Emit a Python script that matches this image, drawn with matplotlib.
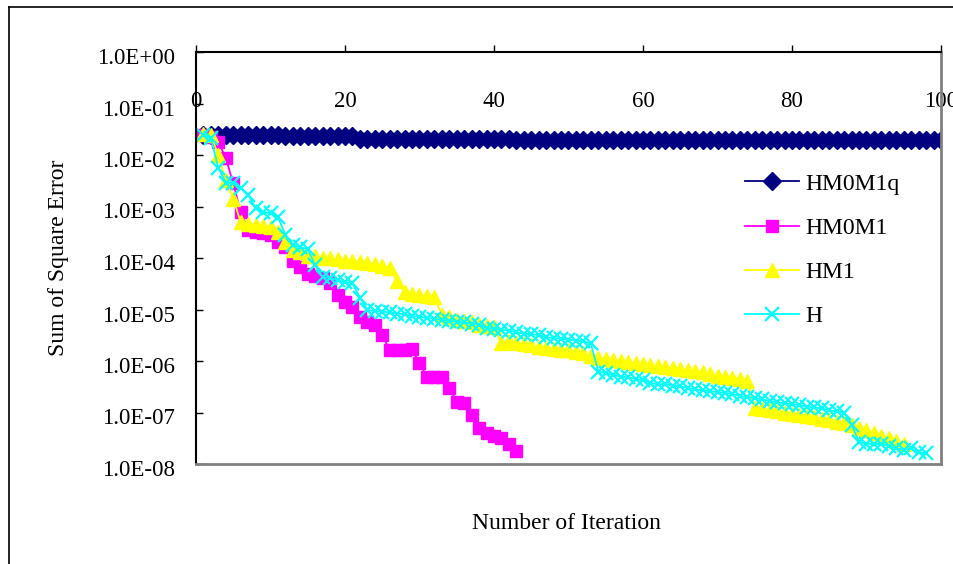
import matplotlib
matplotlib.use('Agg')
import matplotlib.pyplot as plt
from matplotlib.lines import Line2D
from matplotlib.ticker import NullLocator
from matplotlib.transforms import ScaledTranslation

plt.rcParams['font.family'] = ['Liberation Serif', 'DejaVu Serif']

series_names = ['HM0M1q', 'HM0M1', 'HM1', 'H']

hm0m1q = [2.45e-2, 2.44e-2, 2.44e-2, 2.43e-2, 2.43e-2, 2.42e-2, 2.42e-2, 2.41e-2, 2.41e-2, 2.40e-2,
          2.40e-2, 2.39e-2, 2.39e-2, 2.38e-2, 2.38e-2, 2.37e-2, 2.37e-2, 2.36e-2, 2.36e-2, 2.35e-2,
          2.35e-2, 2.05e-2, 2.05e-2, 2.04e-2, 2.04e-2, 2.04e-2, 2.03e-2, 2.03e-2, 2.03e-2, 2.02e-2,
          2.02e-2, 2.02e-2, 2.02e-2, 2.01e-2, 2.01e-2, 2.01e-2, 2.01e-2, 2.00e-2, 2.00e-2, 2.00e-2,
          2.00e-2, 2.00e-2, 1.99e-2, 1.99e-2, 1.99e-2, 1.99e-2, 1.99e-2, 1.99e-2, 1.98e-2, 1.98e-2,
          1.98e-2, 1.98e-2, 1.98e-2, 1.98e-2, 1.98e-2, 1.97e-2, 1.97e-2, 1.97e-2, 1.97e-2, 1.97e-2,
          1.97e-2, 1.97e-2, 1.97e-2, 1.96e-2, 1.96e-2, 1.96e-2, 1.96e-2, 1.96e-2, 1.96e-2, 1.96e-2,
          1.96e-2, 1.96e-2, 1.96e-2, 1.95e-2, 1.95e-2, 1.95e-2, 1.95e-2, 1.95e-2, 1.95e-2, 1.95e-2,
          1.95e-2, 1.95e-2, 1.95e-2, 1.95e-2, 1.95e-2, 1.94e-2, 1.94e-2, 1.94e-2, 1.94e-2, 1.94e-2,
          1.94e-2, 1.94e-2, 1.94e-2, 1.94e-2, 1.94e-2, 1.94e-2, 1.94e-2, 1.94e-2, 1.94e-2, 1.94e-2]

hm0m1 = [2.45e-2, 2.2e-2, 1.8e-2, 8.7e-3, 2.8e-3, 7.9e-4, 3.5e-4, 3.2e-4, 3.1e-4, 2.8e-4,
         2.0e-4, 1.6e-4, 8.9e-5, 6.8e-5, 5.0e-5, 4.5e-5, 4.0e-5, 3.2e-5, 1.9e-5, 1.4e-5,
         1.1e-5, 7.1e-6, 5.6e-6, 5.0e-6, 3.2e-6, 1.6e-6, 1.6e-6, 1.6e-6, 1.7e-6, 9.1e-7,
         5.0e-7, 5.0e-7, 4.9e-7, 3.0e-7, 1.6e-7, 1.55e-7, 8.9e-8, 5.0e-8, 4.0e-8, 3.5e-8,
         3.2e-8, 2.5e-8, 1.8e-8]

hm1 = [2.6e-2, 2.4e-2, 1.0e-2, 3.2e-3, 1.4e-3, 5.0e-4, 4.5e-4, 4.4e-4, 4.2e-4, 4.0e-4,
       3.2e-4, 2.0e-4, 1.4e-4, 1.3e-4, 1.1e-4, 1.07e-4, 1.0e-4, 9.8e-5, 9.5e-5, 8.9e-5,
       8.8e-5, 8.3e-5, 7.9e-5, 7.6e-5, 7.1e-5, 6.3e-5, 3.5e-5, 2.2e-5, 2.0e-5, 1.9e-5,
       1.8e-5, 1.75e-5, 7.9e-6, 7.1e-6, 6.3e-6, 6.0e-6, 5.6e-6, 5.0e-6, 4.7e-6, 4.5e-6,
       2.2e-6, 2.4e-6, 2.2e-6, 2.1e-6, 2.0e-6, 1.9e-6, 1.8e-6, 1.74e-6, 1.66e-6, 1.6e-6,
       1.5e-6, 1.4e-6, 1.26e-6, 1.15e-6, 1.1e-6, 1.05e-6, 1.0e-6, 9.5e-7, 9.1e-7, 8.7e-7,
       8.3e-7, 7.9e-7, 7.6e-7, 7.2e-7, 6.9e-7, 6.6e-7, 6.3e-7, 6.0e-7, 5.6e-7, 5.2e-7,
       5.0e-7, 4.7e-7, 4.4e-7, 4.0e-7, 1.2e-7, 1.15e-7, 1.1e-7, 1.05e-7, 1.0e-7, 9.5e-8,
       9.1e-8, 8.7e-8, 8.3e-8, 7.6e-8, 7.1e-8, 6.6e-8, 6.3e-8, 5.6e-8, 5.0e-8, 4.5e-8,
       4.0e-8, 3.5e-8, 3.2e-8, 2.8e-8, 2.4e-8]

h = [2.45e-2, 2.1e-2, 5.6e-3, 2.9e-3, 2.85e-3, 2.3e-3, 1.7e-3, 9.3e-4, 7.9e-4, 7.4e-4,
     6.3e-4, 2.8e-4, 1.8e-4, 1.6e-4, 1.5e-4, 7.2e-5, 4.3e-5, 4.1e-5, 3.7e-5, 3.4e-5,
     3.2e-5, 1.7e-5, 9.8e-6, 9.3e-6, 9.0e-6, 8.9e-6, 8.3e-6, 8.1e-6, 7.4e-6, 7.3e-6,
     6.8e-6, 6.6e-6, 6.3e-6, 6.0e-6, 5.8e-6, 5.6e-6, 5.3e-6, 5.1e-6, 4.4e-6, 4.2e-6,
     4.0e-6, 3.9e-6, 3.6e-6, 3.4e-6, 3.3e-6, 3.2e-6, 2.9e-6, 2.8e-6, 2.7e-6, 2.6e-6,
     2.5e-6, 2.4e-6, 2.2e-6, 6.2e-7, 5.8e-7, 5.4e-7, 5.0e-7, 4.8e-7, 4.5e-7, 4.2e-7,
     3.8e-7, 3.5e-7, 3.6e-7, 3.3e-7, 3.2e-7, 3.0e-7, 2.8e-7, 2.7e-7, 2.6e-7, 2.5e-7,
     2.4e-7, 2.3e-7, 2.1e-7, 2.0e-7, 1.9e-7, 1.8e-7, 1.66e-7, 1.6e-7, 1.5e-7, 1.45e-7,
     1.4e-7, 1.3e-7, 1.26e-7, 1.2e-7, 1.1e-7, 1.05e-7, 1.0e-7, 5.8e-8, 2.7e-8, 2.5e-8,
     2.4e-8, 2.5e-8, 2.2e-8, 2.0e-8, 1.9e-8, 2.0e-8, 1.7e-8, 1.6e-8]

x_ticks = [0, 20, 40, 60, 80, 100]
y_ticks = [1e0, 1e-1, 1e-2, 1e-3, 1e-4, 1e-5, 1e-6, 1e-7, 1e-8]
y_tick_labels = ['1.0E+00', '1.0E-01', '1.0E-02', '1.0E-03', '1.0E-04',
                 '1.0E-05', '1.0E-06', '1.0E-07', '1.0E-08']

W, H = 954, 564
fig = plt.figure(figsize=(W / 100, H / 100), dpi=100)
fig.patch.set_facecolor('white')

# outer frame (left and top edges visible)
fig.add_artist(Line2D([9 / W, 9 / W], [0, 1 - 7 / H], transform=fig.transFigure, color='black', lw=1.2))
fig.add_artist(Line2D([9 / W, 1], [1 - 7 / H, 1 - 7 / H], transform=fig.transFigure, color='black', lw=1.2))

ax = fig.add_axes([196 / W, 1 - 464 / H, 745 / W, 412 / H])
ax.set_yscale('log')

styles = [
    dict(color='#000080', marker='D', markersize=9, lw=1.3),
    dict(color='#FF00FF', marker='s', markersize=8.5, lw=1.3),
    dict(color='#FFFF00', marker='^', markersize=10, lw=1.3),
    dict(color='#00FFFF', marker='x', markersize=9.5, markeredgewidth=1.6, lw=1.3),
]
for name, data, st in zip(series_names, [hm0m1q, hm0m1, hm1, h], styles):
    xs = list(range(1, len(data) + 1))
    ax.plot(xs, data, label=name, **st)

ax.set_xlim(0, 100)
ax.set_ylim(1e-8, 1)

ax.set_yticks(y_ticks)
ax.set_yticklabels(y_tick_labels)
ax.yaxis.set_minor_locator(NullLocator())
ax.set_xticks(x_ticks)
ax.xaxis.tick_top()

ax.tick_params(axis='y', direction='in', length=5, width=1, labelsize=16.5, pad=15, colors='black')
ax.tick_params(axis='x', direction='out', length=5, width=1, labelsize=16.5, pad=-48)

for lbl in ax.get_yticklabels():
    lbl.set_transform(lbl.get_transform() + ScaledTranslation(0, -4 / 100, fig.dpi_scale_trans))

for s in ['left', 'top']:
    ax.spines[s].set_color('black')
    ax.spines[s].set_linewidth(1.5)
for s in ['right', 'bottom']:
    ax.spines[s].set_color('#808080')
    ax.spines[s].set_linewidth(2)

ax.set_ylabel('Sum of Square Error', fontsize=17, va='center')
ax.yaxis.set_label_coords(-0.185, 0.5)
ax.xaxis.set_label_position('bottom')
ax.set_xlabel('Number of Iteration', fontsize=17, va='center')
ax.xaxis.set_label_coords(0.497, -0.145)

ax.legend(loc='upper left', bbox_to_anchor=(0.737, 0.706), frameon=False, fontsize=17,
          handlelength=2.3, handletextpad=0.25, labelspacing=0.96, borderpad=0, borderaxespad=0)

fig.savefig('out.png', dpi=100, facecolor='white')
